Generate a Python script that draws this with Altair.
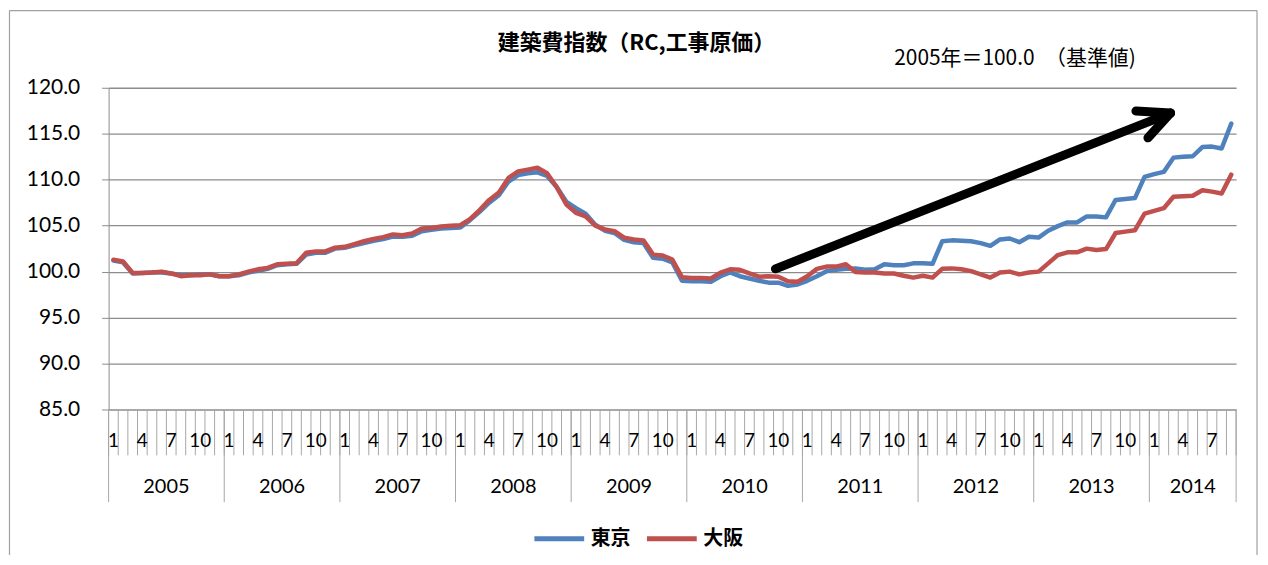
import altair as alt
import pandas as pd

years = [2005, 2006, 2007, 2008, 2009, 2010, 2011, 2012, 2013, 2014]
months_in_year = [12, 12, 12, 12, 12, 12, 12, 12, 12, 9]
month_tick_labels = [1, 4, 7, 10]

tokyo = [
    101.2, 101.0, 99.8, 99.85, 99.9, 99.9, 99.8, 99.6, 99.6, 99.7, 99.7, 99.5,
    99.5, 99.6, 99.9, 100.1, 100.3, 100.7, 100.8, 100.85, 101.85, 102.05, 102.05, 102.5,
    102.6, 102.85, 103.1, 103.35, 103.55, 103.8, 103.8, 103.9, 104.4, 104.55, 104.7, 104.75,
    104.8, 105.6, 106.5, 107.5, 108.3, 109.8, 110.5, 110.7, 110.8, 110.4, 109.2, 107.6,
    106.9, 106.3, 105.1, 104.45, 104.2, 103.45, 103.2, 103.1, 101.5, 101.4, 101.0, 99.0,
    98.95, 98.95, 98.9, 99.5, 99.9, 99.5, 99.25, 99.0, 98.8, 98.8, 98.45, 98.6,
    99.0, 99.5, 100.05, 100.2, 100.3, 100.35, 100.2, 100.25, 100.8, 100.7, 100.7, 100.9,
    100.9, 100.85, 103.3, 103.4, 103.35, 103.3, 103.1, 102.8, 103.5, 103.6, 103.2, 103.8,
    103.7, 104.45, 104.95, 105.35, 105.35, 106.0, 106.0, 105.9, 107.8, 107.9, 108.0, 110.3,
    110.6, 110.85, 112.4, 112.5, 112.55, 113.55, 113.6, 113.4, 116.1,
]
osaka = [
    101.3, 101.1, 99.85, 99.85, 99.9, 100.0, 99.8, 99.5, 99.6, 99.6, 99.7, 99.5,
    99.5, 99.7, 100.0, 100.25, 100.4, 100.8, 100.85, 100.9, 102.05, 102.2, 102.2, 102.6,
    102.7, 103.0, 103.3, 103.55, 103.75, 104.05, 103.95, 104.15, 104.7, 104.75, 104.9, 105.0,
    105.05, 105.7, 106.7, 107.8, 108.6, 110.2, 110.9, 111.1, 111.3, 110.7, 109.2, 107.3,
    106.4, 106.0, 105.0, 104.6, 104.4, 103.7, 103.5, 103.4, 101.85, 101.75, 101.3, 99.4,
    99.3, 99.3, 99.25, 99.9, 100.25, 100.2, 99.8, 99.45, 99.5, 99.45, 98.95, 98.9,
    99.5, 100.3, 100.55, 100.55, 100.8, 99.95, 99.9, 99.9, 99.8, 99.8, 99.55, 99.35,
    99.55, 99.35, 100.3, 100.35, 100.25, 100.05, 99.7, 99.35, 99.9, 100.0, 99.7, 99.9,
    100.0, 100.9, 101.8, 102.1, 102.1, 102.5, 102.35, 102.45, 104.2, 104.35, 104.5, 106.3,
    106.6, 106.9, 108.15, 108.2, 108.25, 108.85, 108.7, 108.5, 110.55,
]
series_names = ["東京", "大阪"]
series_colors = ["#4F81BD", "#C0504D"]

title_text = "建築費指数（RC,工事原価）"
note_text = "2005年＝100.0　（基準値)"

# arrow annotation (category index, index value)
arrow_x = [69.2, 110.2, 110.2]
arrow_y = [100.3, 117.25, 117.25]
arrow_x2 = [110.2, 106.6, 107.85]
arrow_y2 = [117.25, 117.47, 114.55]

W, H = 1132, 323
n_total = sum(months_in_year)
UNIT_Y = 35.0 / H          # index units per pixel
UNIT_X = n_total / W       # category units per pixel

rows = []
for name, vals in zip(series_names, [tokyo, osaka]):
    for i, v in enumerate(vals):
        rows.append({"mx": i + 0.5, "val": v, "ser": name})
df = pd.DataFrame(rows)

month_y = 85 - 32 * UNIT_Y
year_y = 85 - 78 * UNIT_Y
month_lab = []
year_lab = []
year_bounds = [0]
start = 0
for y, n in zip(years, months_in_year):
    for m in month_tick_labels:
        if m <= n:
            month_lab.append({"mx": start + m - 0.5, "val": month_y, "lab": str(m)})
    year_lab.append({"mx": start + n / 2, "val": year_y, "lab": str(y)})
    start += n
    year_bounds.append(start)
month_df = pd.DataFrame(month_lab)
year_df = pd.DataFrame(year_lab)
tick_df = pd.DataFrame({
    "mx": list(range(n_total + 1)),
    "val": [85.0] * (n_total + 1),
    "val2": [85 - 46 * UNIT_Y] * (n_total + 1),
})
ybound_df = pd.DataFrame({
    "mx": year_bounds,
    "val": [85.0] * len(year_bounds),
    "val2": [85 - 93 * UNIT_Y] * len(year_bounds),
})

xs = alt.Scale(domain=[0, n_total], nice=False, zero=False)
ys = alt.Scale(domain=[85, 120], nice=False, zero=False)

grid_color = "#8C8C8C"
light = "#A6A6A6"

lines = alt.Chart(df).mark_line(strokeWidth=4.5, strokeJoin="round", strokeCap="round").encode(
    x=alt.X("mx:Q", scale=xs, axis=None),
    y=alt.Y(
        "val:Q",
        scale=ys,
        axis=alt.Axis(
            values=[85, 90, 95, 100, 105, 110, 115, 120],
            format=".1f",
            title=None,
            labelFont="Lato",
            labelFontSize=21,
            labelColor="#000000",
            labelPadding=22,
            tickSize=7,
            tickColor=grid_color,
            domainColor=grid_color,
            gridColor=grid_color,
            gridWidth=1.3,
        ),
    ),
    color=alt.Color(
        "ser:N",
        scale=alt.Scale(domain=series_names, range=series_colors),
        legend=alt.Legend(
            title=None,
            orient="none",
            direction="horizontal",
            legendX=425,
            legendY=425,
            symbolType="stroke",
            symbolSize=2500,
            symbolStrokeWidth=5,
            labelFont="Noto Sans CJK JP",
            labelFontSize=20,
            labelFontWeight="bold",
            labelColor="#000000",
            labelOffset=4,
            columnPadding=6,
        ),
    ),
)

arrow_df = pd.DataFrame({"mx": arrow_x, "val": arrow_y, "mx2": arrow_x2, "val2": arrow_y2})
arrow = alt.Chart(arrow_df).mark_rule(color="#000000", strokeWidth=9, strokeCap="round").encode(
    x=alt.X("mx:Q", scale=xs), y=alt.Y("val:Q", scale=ys), x2="mx2", y2="val2"
)

month_ticks = alt.Chart(tick_df).mark_rule(color=light, strokeWidth=1).encode(
    x=alt.X("mx:Q", scale=xs), y=alt.Y("val:Q", scale=ys), y2="val2"
)
year_ticks = alt.Chart(ybound_df).mark_rule(color=light, strokeWidth=1).encode(
    x=alt.X("mx:Q", scale=xs), y=alt.Y("val:Q", scale=ys), y2="val2"
)
month_text = alt.Chart(month_df).mark_text(font="Lato", fontSize=19, color="#000000", baseline="middle").encode(
    x=alt.X("mx:Q", scale=xs), y=alt.Y("val:Q", scale=ys), text="lab:N"
)
year_text = alt.Chart(year_df).mark_text(font="Lato", fontSize=20, color="#000000", baseline="middle").encode(
    x=alt.X("mx:Q", scale=xs), y=alt.Y("val:Q", scale=ys), text="lab:N"
)

title_df = pd.DataFrame({"mx": [(639 - 109) * UNIT_X], "val": [120 + 45 * UNIT_Y], "lab": [title_text]})
note_df = pd.DataFrame({"mx": [(1019 - 109) * UNIT_X], "val": [120 + 29 * UNIT_Y], "lab": [note_text]})
title = alt.Chart(title_df).mark_text(
    font="Noto Sans CJK JP", fontSize=22, fontWeight="bold", color="#000000", baseline="middle"
).encode(x=alt.X("mx:Q", scale=xs), y=alt.Y("val:Q", scale=ys), text="lab:N")
note = alt.Chart(note_df).mark_text(
    font="Noto Sans CJK JP", fontSize=21, color="#000000", baseline="middle"
).encode(x=alt.X("mx:Q", scale=xs), y=alt.Y("val:Q", scale=ys), text="lab:N")

# outer chart frame (left, top, right edges)
bx0 = (9.5 - 109) * UNIT_X
bx1 = (1262 - 109) * UNIT_X
by_top = 120 + (87 - 9.5) * UNIT_Y
by_bot = 85 - (560 - 410) * UNIT_Y
frame_df = pd.DataFrame({
    "mx": [bx0, bx1, bx0],
    "val": [by_top, by_top, by_top],
    "mx2": [bx0, bx1, bx1],
    "val2": [by_bot, by_bot, by_top],
})
frame = alt.Chart(frame_df).mark_rule(color="#A0A0A0", strokeWidth=1.2).encode(
    x=alt.X("mx:Q", scale=xs), y=alt.Y("val:Q", scale=ys), x2="mx2", y2="val2"
)

chart = alt.layer(
    lines, month_ticks, year_ticks, month_text, year_text, arrow, title, note, frame
).properties(
    width=W,
    height=H,
    autosize=alt.AutoSizeParams(type="none"),
    padding={"left": 101, "top": 79, "right": 24, "bottom": 145},
).configure_view(stroke=None)

chart.save("out.html", embed_options={"renderer": "svg", "actions": False})
